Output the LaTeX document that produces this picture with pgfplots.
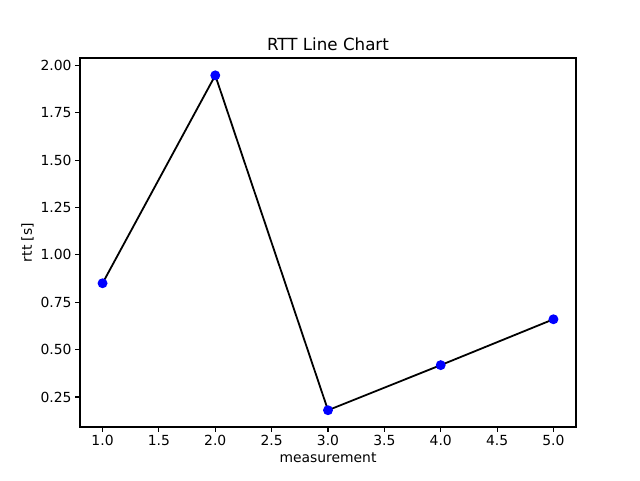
\documentclass[border=0pt]{standalone}
\usepackage{pgfplots}
\pgfplotsset{compat=1.18}
\usepackage{fontspec}
\setmainfont{DejaVu Sans}
\begin{document}
\begin{tikzpicture}[x=1pt,y=1pt,font=\fontsize{13.9}{16}\selectfont]
\path[use as bounding box] (0,0) rectangle (640,480);
\begin{axis}[at={(80pt,53pt)}, anchor=south west, scale only axis, width=496pt, height=369pt,
 xmin=0.8, xmax=5.2, ymin=0.0915, ymax=2.0385,
 xtick={1,1.5,...,5}, ytick={0.25,0.5,...,2.0},
 xtick pos=bottom, ytick pos=left,
 xticklabel style={/pgf/number format/.cd,fixed,fixed zerofill,precision=1},
 yticklabel style={/pgf/number format/.cd,fixed,fixed zerofill,precision=2},
 /pgf/number format/assume math mode=true,
 tick align=outside, major tick length=4.9pt, tick style={black, line width=1.1pt},
 axis line style={line width=1.1pt},
 title={RTT Line Chart}, xlabel={measurement}, ylabel={rtt [s]},
 title style={font=\fontsize{16.7}{18}\selectfont, yshift=-2pt},
 ]
\addplot[black, line width=1.8pt, mark=*, mark size=4pt, mark options={fill=blue, draw=blue}]
 coordinates {(1,0.85) (2,1.947) (3,0.18) (4,0.418) (5,0.66)};
\end{axis}
\end{tikzpicture}
\end{document}
